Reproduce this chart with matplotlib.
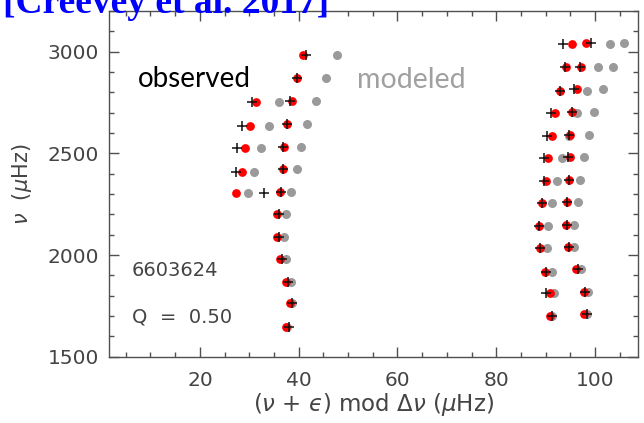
import matplotlib
matplotlib.use("Agg")
import matplotlib.pyplot as plt

plt.rcParams['mathtext.fontset'] = 'dejavusans'

# Ridge A (left, main)
a_nu = [2984, 2869, 2757, 2644, 2533, 2421, 2311, 2200, 2090, 1979, 1869, 1762, 1647]
a_obs = [40.8, 39.6, 38.6, 37.7, 37.1, 36.9, 36.2, 35.6, 35.6, 36.3, 37.5, 38.2, 37.4]
a_mod = [47.7, 45.5, 43.5, 41.7, 40.4, 39.6, 38.4, 37.4, 37.1, 37.4, 38.4, 38.7, 37.7]
a_plus = [41.5, 39.7, 38.2, 37.7, 36.8, 36.9, 36.4, 36.0, 36.0, 36.6, 37.9, 38.7, 38.0]

# Ridge B (left, short)
b_nu = [2751, 2636, 2525, 2410, 2303]
b_obs = [31.3, 30.1, 29.1, 28.6, 27.4]
b_mod = [36.1, 34.0, 32.3, 31.0, 29.7]
b_plus = [30.6, 28.6, 27.6, 27.3, 33.0]

# Ridge C (right, left column)
c_nu = [3036, 2926, 2808, 2700, 2587, 2476, 2364, 2254, 2143, 2033, 1918, 1812, 1700]
c_obs = [95.4, 94.2, 93.0, 91.9, 91.2, 90.5, 90.0, 89.3, 88.7, 88.8, 89.8, 90.9, 90.9]
c_mod = [103.0, 100.6, 98.3, 96.4, 94.8, 93.3, 92.2, 91.3, 90.4, 90.2, 91.2, 91.7, 91.2]
c_plus = [93.5, 93.9, 93.0, 91.0, 90.2, 89.6, 89.7, 89.3, 88.7, 88.9, 90.0, 90.0, 91.2]

# Ridge D (right, right column)
d_nu = [3041, 2926, 2815, 2705, 2590, 2481, 2369, 2259, 2148, 2038, 1930, 1820, 1710]
d_obs = [98.1, 97.1, 96.3, 95.4, 95.0, 94.9, 94.7, 94.4, 94.2, 94.5, 96.1, 97.8, 97.8]
d_mod = [105.8, 103.7, 101.6, 99.8, 98.7, 97.8, 96.9, 96.5, 95.8, 95.8, 97.1, 98.5, 98.3]
d_plus = [99.1, 96.9, 95.8, 95.4, 94.7, 94.5, 94.7, 94.4, 94.3, 94.7, 96.5, 97.9, 98.3]

star_id = "6603624"
q_label = "Q  =  0.50"

fig = plt.figure(figsize=(6.44, 4.23), dpi=100)
ax = fig.add_axes([109/644, 1 - 356.7/423, (638 - 109)/644, (356.7 - 11)/423])

axc = '#505050'
gray = '#9a9a9a'
for nu, mod in [(a_nu, a_mod), (b_nu, b_mod), (c_nu, c_mod), (d_nu, d_mod)]:
    ax.plot(mod, nu, 'o', color=gray, ms=6.5, mew=0, zorder=2)
for nu, obs in [(a_nu, a_obs), (b_nu, b_obs), (c_nu, c_obs), (d_nu, d_obs)]:
    ax.plot(obs, nu, 'o', color='#ff0000', ms=6.3, mew=0, zorder=3)
for nu, pl in [(a_nu, a_plus), (b_nu, b_plus), (c_nu, c_plus), (d_nu, d_plus)]:
    ax.plot(pl, nu, '+', color='#111111', ms=7, mew=1.1, zorder=4)

ax.set_xlim(1.6, 108.7)
ax.set_ylim(1500, 3200)
ax.set_xticks([20, 40, 60, 80, 100])
ax.set_xticks(range(5, 108, 5), minor=True)
ax.set_yticks([1500, 2000, 2500, 3000])
ax.set_yticks(range(1500, 3201, 100), minor=True)
ax.tick_params(which='both', direction='in', top=True, right=True, color=axc,
               labelcolor='#444444', labelsize=14.5)
ax.tick_params(which='major', length=7, width=1)
ax.tick_params(which='minor', length=3.5, width=1)
ax.tick_params(axis='x', pad=10)
ax.tick_params(axis='y', pad=7)
for s in ax.spines.values():
    s.set_color(axc)
    s.set_linewidth(1)

ax.set_xlabel('($\\nu$ + $\u03f5$) mod $\\Delta\\nu$ ($\\mu$Hz)', fontsize=16.5, color='#444444', labelpad=1)
ax.set_ylabel(r'$\nu$  ($\mu$Hz)', fontsize=15, color='#444444', labelpad=10)

ax.text(6.2, 1926, star_id, fontsize=14, color='#444444', va='center', ha='left')
ax.text(6.2, 1695, q_label, fontsize=14, color='#444444', va='center', ha='left')

fig.text(138/644, 1 - 79/423, 'observed', fontsize=20, family='Lato', color='black', va='center', ha='left')
fig.text(357/644, 1 - 80/423, 'modeled', fontsize=20.5, family='Lato', color='#a0a0a0', va='center', ha='left')

fig.text(0.004, 1 - 13/423, '[Creevey et al. 2017]', fontsize=27, family='Liberation Serif',
         weight='bold', color='#0000ff', va='baseline', ha='left')

fig.savefig('out.png', dpi=100)
